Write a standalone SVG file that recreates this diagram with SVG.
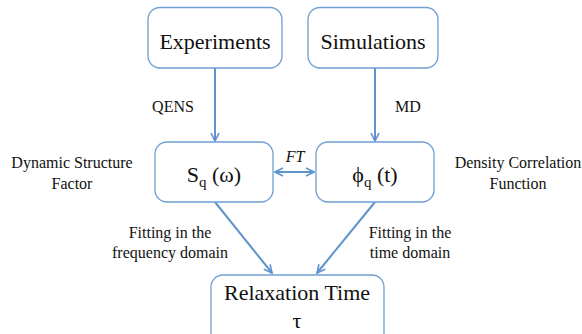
<svg xmlns="http://www.w3.org/2000/svg" width="582" height="334" viewBox="0 0 582 334">
<style>
.box{fill:#fff;stroke:#6f9fd3;stroke-width:1.3}
.t{fill:#111;text-anchor:middle}
.big{font-size:22px}
.sm{font-size:16px}
.con{stroke:#5f93cc;stroke-width:2;fill:none}
</style>
<defs>
<marker id="ah" viewBox="0 0 10 10" refX="9" refY="5" markerWidth="5" markerHeight="5" orient="auto-start-reverse" markerUnits="strokeWidth">
<path d="M1,1 L9,5 L1,9" fill="none" stroke="#5f93cc" stroke-width="1.6"/>
</marker>
</defs>
<rect width="582" height="334" fill="#fff"/>
<g id="connectors">
<line class="con" x1="215" y1="68" x2="215" y2="141" marker-end="url(#ah)"/>
<line class="con" x1="375" y1="68" x2="375" y2="141" marker-end="url(#ah)"/>
<line class="con" x1="275" y1="172" x2="314" y2="172" marker-start="url(#ah)" marker-end="url(#ah)"/>
<line class="con" x1="215" y1="202" x2="272" y2="273" marker-end="url(#ah)"/>
<line class="con" x1="375" y1="202" x2="317" y2="273" marker-end="url(#ah)"/>
</g>
<g font-family="Liberation Serif, Tinos, Times New Roman, Times, DejaVu Serif, Noto Serif, FreeSerif, serif">
<g id="experiments">
<rect class="box" x="148" y="7.5" width="134" height="60.5" rx="12"/>
<text class="t big" x="215" y="49">Experiments</text>
</g>
<g id="simulations">
<rect class="box" x="308" y="7.5" width="130" height="60.5" rx="12"/>
<text class="t big" x="373" y="49">Simulations</text>
</g>
<g id="sq">
<rect class="box" x="155" y="142" width="118" height="60" rx="12"/>
<text class="t big" x="214" y="182">S<tspan font-size="15" dy="5">q</tspan><tspan dy="-5"> (ω)</tspan></text>
</g>
<g id="phi">
<rect class="box" x="316" y="142" width="118" height="60" rx="12"/>
<text class="t big" x="375" y="182">ϕ<tspan font-size="15" dy="5">q</tspan><tspan dy="-5"> (t)</tspan></text>
</g>
<g id="relax">
<rect class="box" x="211" y="275" width="173" height="70" rx="12"/>
<text class="t big" x="297" y="300">Relaxation Time</text>
<text class="t big" x="297" y="328">τ</text>
</g>
<g id="labels">
<text class="t sm" x="173" y="112">QENS</text>
<text class="t sm" x="408" y="112">MD</text>
<text class="t sm" x="295" y="162" font-style="italic">FT</text>
<text class="t sm" x="72" y="168">Dynamic Structure</text>
<text class="t sm" x="72" y="189">Factor</text>
<text class="t sm" x="518" y="168">Density Correlation</text>
<text class="t sm" x="518" y="189">Function</text>
<text class="t sm" x="170" y="238">Fitting in the</text>
<text class="t sm" x="170" y="258">frequency domain</text>
<text class="t sm" x="410" y="238">Fitting in the</text>
<text class="t sm" x="410" y="258">time domain</text>
</g>
</g>
</svg>
